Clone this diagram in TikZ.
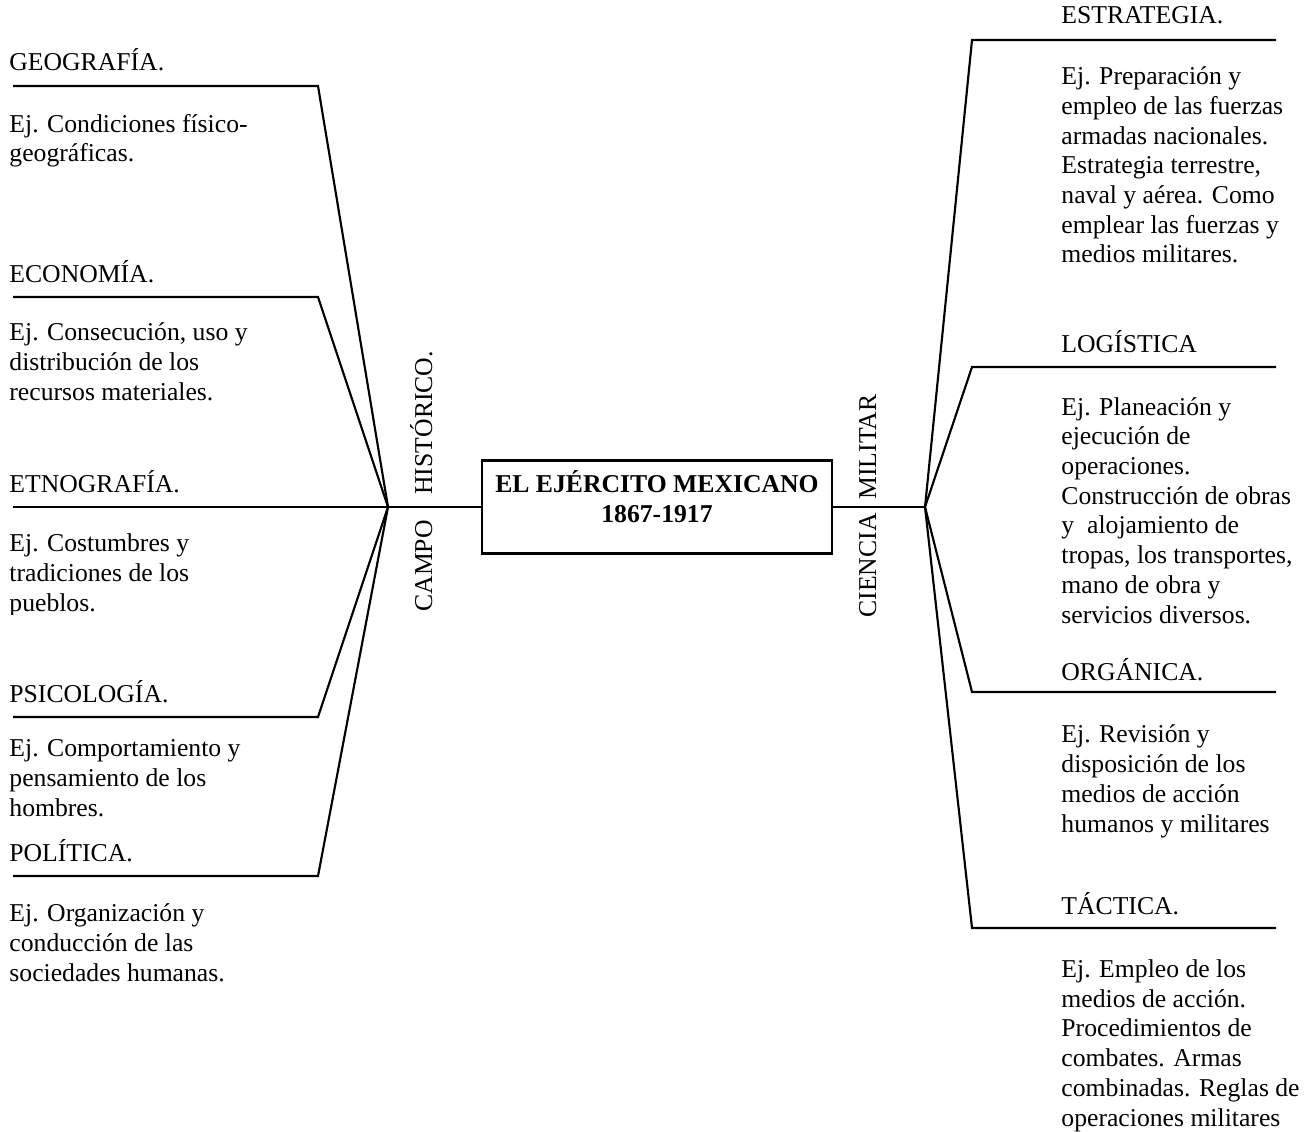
\documentclass[tikz,border=0pt]{standalone}
\usepackage{fontspec}
\setmainfont{Liberation Serif}
\tikzset{
  linea/.style={line width=1pt},
  rama/.style={anchor=base west, inner sep=0pt, font=\fontsize{12}{13.88}\selectfont},
  ejemplo/.style={anchor=base west, inner sep=0pt, align=left, font=\fontsize{12}{13.88}\selectfont},
  vertical/.style={rotate=90, anchor=base west, inner sep=0pt, font=\fontsize{12}{13.88}\selectfont},
  caja/.style={draw, line width=1pt, minimum width=163.6pt, minimum height=43.5pt, inner sep=0pt},
  titulo/.style={align=center, inner sep=0pt, font=\fontsize{12}{13.88}\selectfont\bfseries}
}
\begin{document}
\begin{tikzpicture}[x=0.4673pt, y=-0.4673pt]
  \useasboundingbox (0,0) rectangle (1313,1131);
  % centro
  \node[caja] (ejercito) at (657,507) {};
  \node[titulo] (titulo) at ([yshift=4.8pt]ejercito.center) {EL EJÉRCITO MEXICANO\\1867-1917};
  \coordinate (hubL) at (388,507);
  \coordinate (hubR) at (925,507);
  \coordinate (etnE) at (13,507);
  \draw[linea] (etnE) -- (hubL) -- (ejercito.west);
  \draw[linea] (ejercito.east) -- (hubR);
  % ramas izquierdas
  \foreach \nombre/\y in {geo/86,eco/297,psi/717,pol/876}{
    \coordinate (\nombre E) at (13,\y);
    \coordinate (\nombre C) at (318,\y);
    \draw[linea] (\nombre E) -- (\nombre C) -- (hubL);
  }
  % ramas derechas
  \foreach \nombre/\y in {est/40,log/367,org/692,tac/928}{
    \coordinate (\nombre C) at (972,\y);
    \coordinate (\nombre E) at (1276,\y);
    \draw[linea] (hubR) -- (\nombre C) -- (\nombre E);
  }
  \node[vertical] (campo) at (432,612) {CAMPO};
  \node[vertical] (historico) at (432,495) {HISTÓRICO.};
  \node[vertical] (ciencia) at (876,618) {CIENCIA};
  \node[vertical] (militar) at (876,500) {MILITAR};
  % textos izquierdos (base = ultima linea)
  \node[rama] (geografia) at (9,71) {GEOGRAFÍA.};
  \node[ejemplo] (geografiaej) at (9,162) {Ej. Condiciones físico-\\geográficas.};
  \node[rama] (economia) at (9,282) {ECONOMÍA.};
  \node[ejemplo] (economiaej) at (9,400) {Ej. Consecución, uso y\\distribución de los\\recursos materiales.};
  \node[rama] (etnografia) at (9,492) {ETNOGRAFÍA.};
  \begin{scope}
    \clip (0,520) rectangle (380,614);
    \node[ejemplo] (etnografiaej) at (9,611) {Ej. Costumbres y\\tradiciones de los\\pueblos.};
  \end{scope}
  \node[rama] (psicologia) at (9,702) {PSICOLOGÍA.};
  \node[ejemplo] (psicologiaej) at (9,816) {Ej. Comportamiento y\\pensamiento de los\\hombres.};
  \node[rama] (politica) at (9,861) {POLÍTICA.};
  \node[ejemplo] (politicaej) at (9,981) {Ej. Organización y\\conducción de las\\sociedades humanas.};
  % textos derechos
  \node[rama] (estrategia) at (1061,24) {ESTRATEGIA.};
  \node[ejemplo] (estrategiaej) at (1061,263) {Ej. Preparación y\\empleo de las fuerzas\\armadas nacionales.\\Estrategia terrestre,\\naval y aérea. Como\\emplear las fuerzas y\\medios militares.};
  \node[rama] (logistica) at (1061,352) {LOGÍSTICA};
  \node[ejemplo] (logisticaej) at (1061,623) {Ej. Planeación y\\ejecución de\\operaciones.\\Construcción de obras\\y\ \ alojamiento de\\tropas, los transportes,\\mano de obra y\\servicios diversos.};
  \node[rama] (organica) at (1061,680) {ORGÁNICA.};
  \node[ejemplo] (organicaej) at (1061,832) {Ej. Revisión y\\disposición de los\\medios de acción\\humanos y militares};
  \node[rama] (tactica) at (1061,914) {TÁCTICA.};
  \node[ejemplo] (tacticaej) at (1061,1126) {Ej. Empleo de los\\medios de acción.\\Procedimientos de\\combates. Armas\\combinadas. Reglas de\\operaciones militares};
\end{tikzpicture}
\end{document}
